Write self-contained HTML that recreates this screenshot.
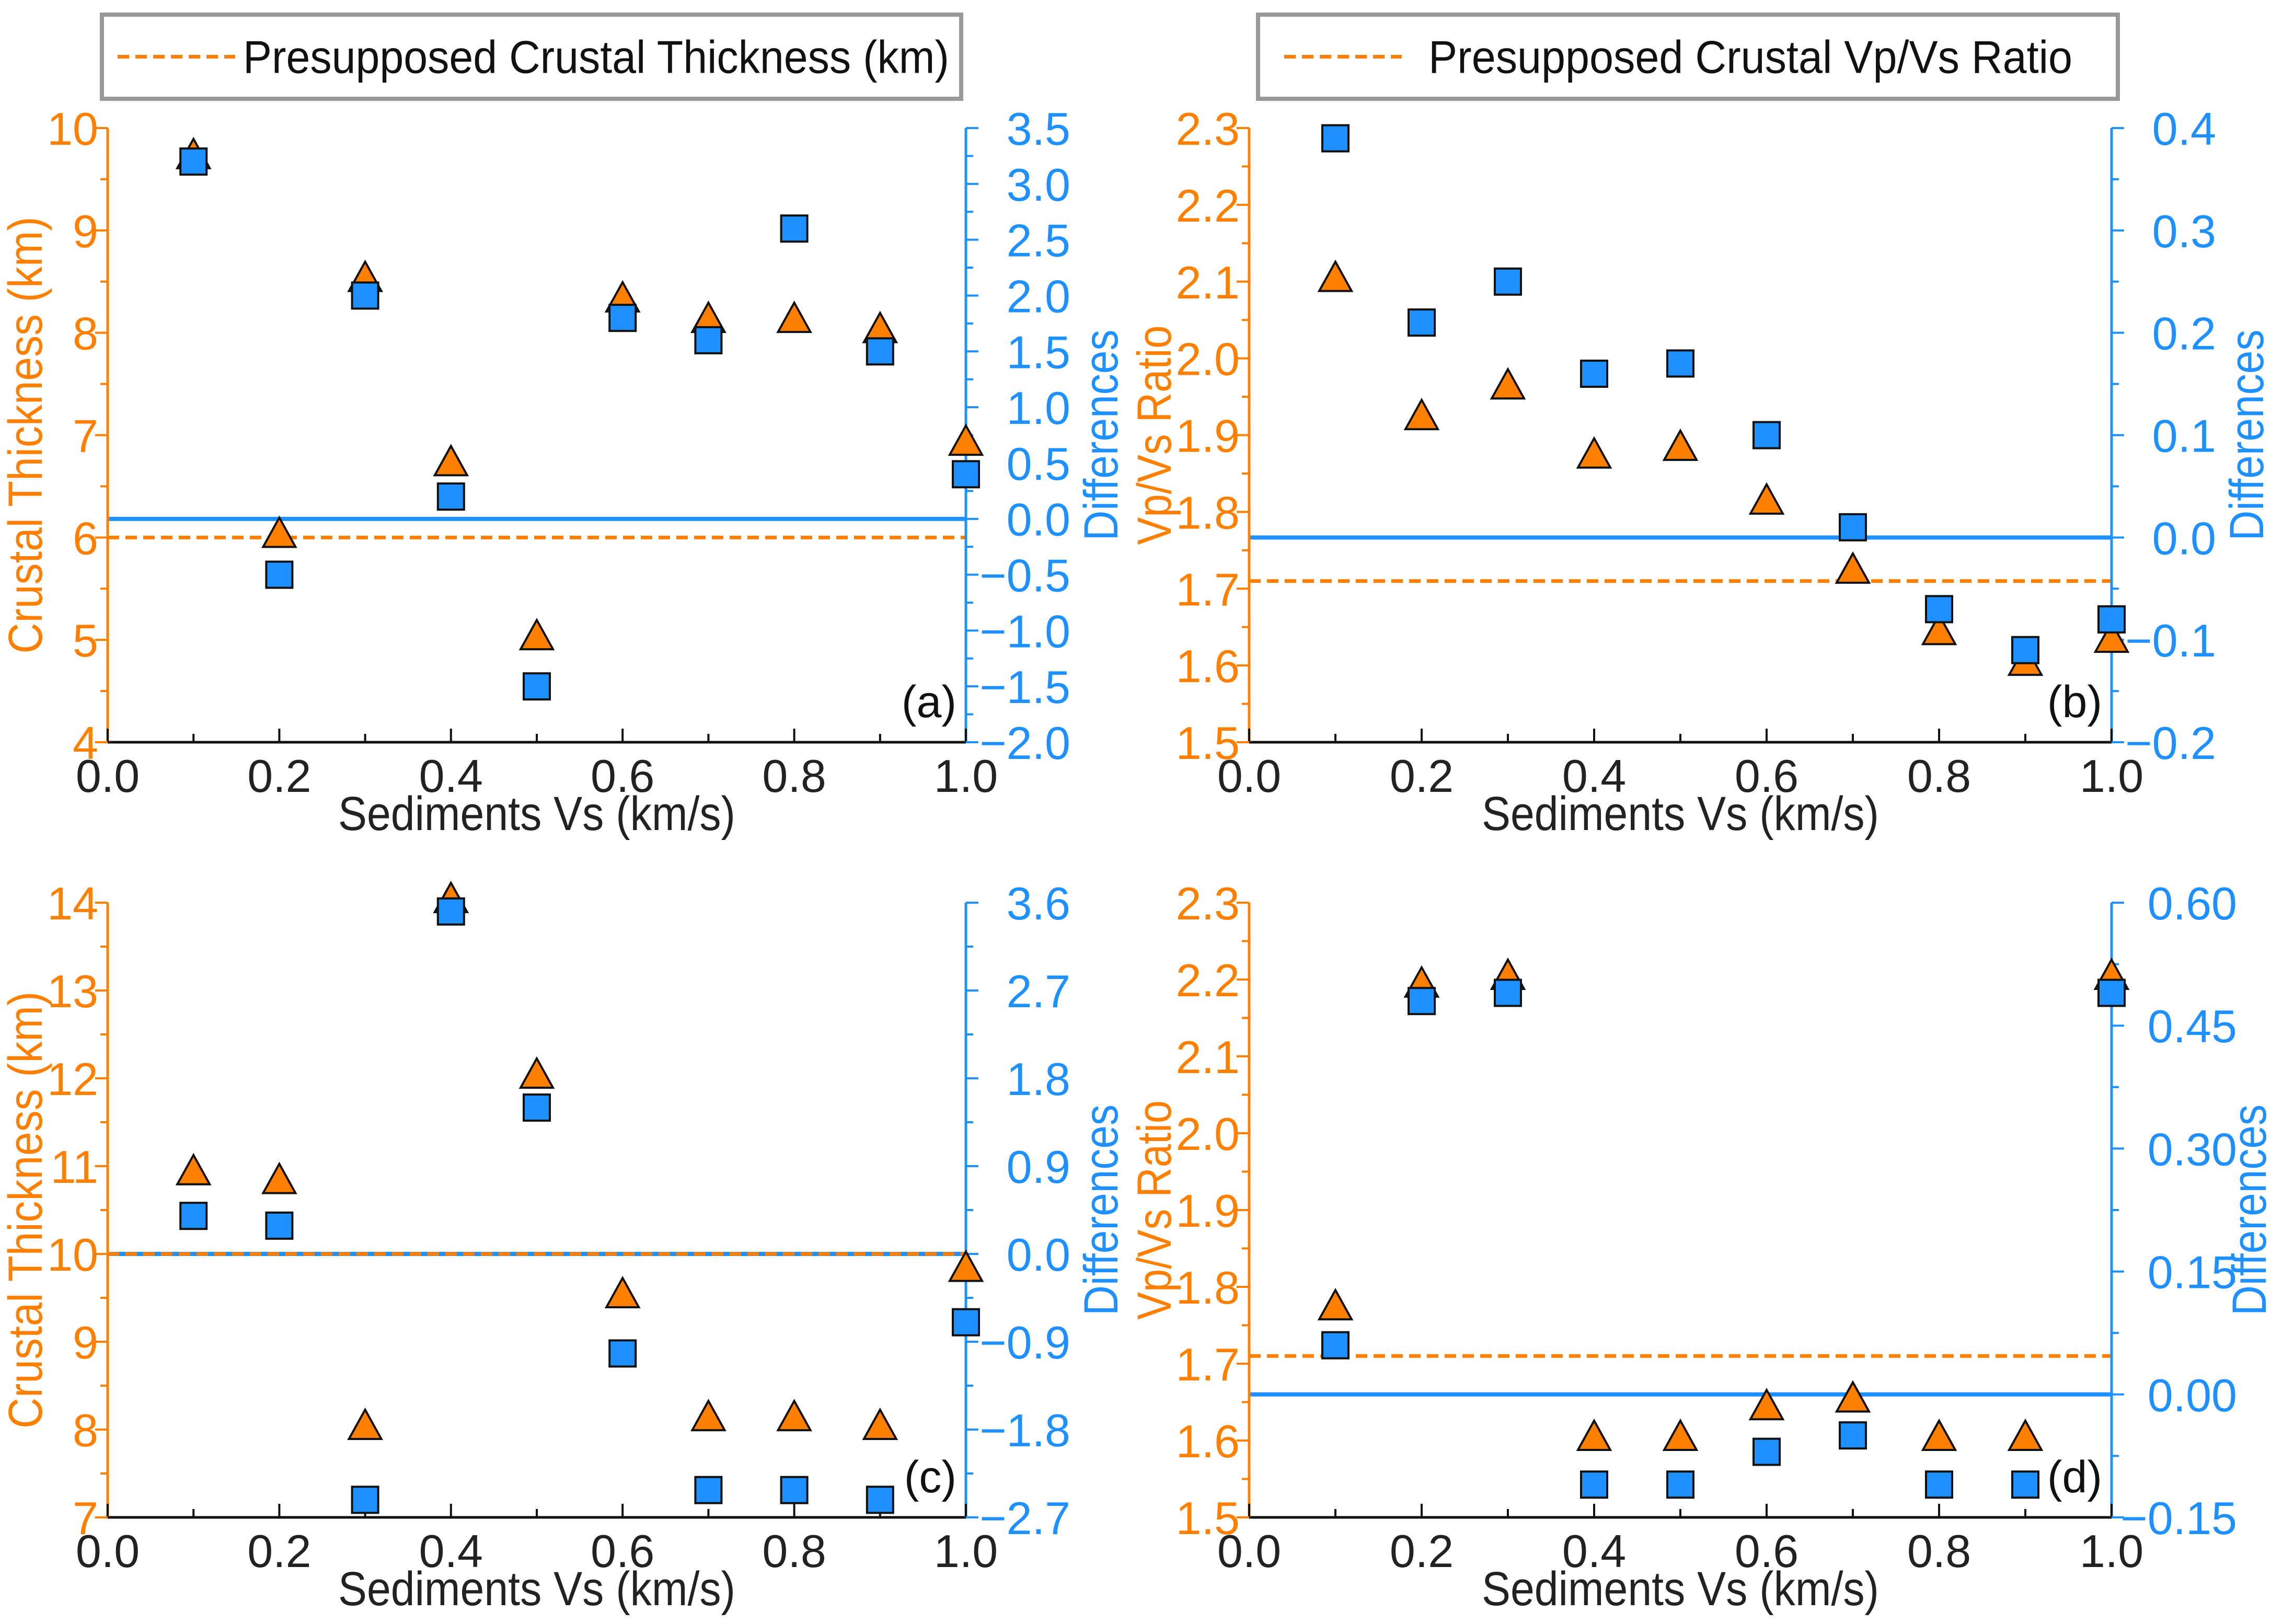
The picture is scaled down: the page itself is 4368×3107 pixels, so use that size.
<!DOCTYPE html>
<html><head><meta charset="utf-8"><style>
html,body{margin:0;padding:0;background:#fff}
svg{display:block;font-family:"Liberation Sans",sans-serif}
</style></head><body>
<svg id="fig" width="4368" height="3107" viewBox="0 0 4368 3107" xmlns="http://www.w3.org/2000/svg"></svg>
<script>
const xVals=[0.1,0.2,0.3,0.4,0.5,0.6,0.7,0.8,0.9,1.0];
const xTicks=[0,0.2,0.4,0.6,0.8,1.0];
const xTickLabels=["0.0","0.2","0.4","0.6","0.8","1.0"];
const aTri=[9.7,6.0,8.5,6.7,5.0,8.3,8.1,8.1,8.0,6.9];
const aSq=[3.2,-0.5,2.0,0.2,-1.5,1.8,1.6,2.6,1.5,0.4];
const aLeftTicks=[4,5,6,7,8,9,10];
const aRightTicks=[-2,-1.5,-1,-0.5,0,0.5,1,1.5,2,2.5,3,3.5];
const bTri=[2.1,1.92,1.96,1.87,1.88,1.81,1.72,1.64,1.60,1.63];
const bSq=[0.39,0.21,0.25,0.16,0.17,0.10,0.01,-0.07,-0.11,-0.08];
const bLeftTicks=[1.5,1.6,1.7,1.8,1.9,2.0,2.1,2.2,2.3];
const bRightTicks=[-0.2,-0.1,0,0.1,0.2,0.3,0.4];
const cTri=[10.9,10.8,8.0,14.0,12.0,9.5,8.1,8.1,8.0,9.8];
const cSq=[0.39,0.29,-2.52,3.51,1.5,-1.02,-2.42,-2.42,-2.52,-0.7];
const cLeftTicks=[7,8,9,10,11,12,13,14];
const cRightTicks=[-2.7,-1.8,-0.9,0,0.9,1.8,2.7,3.6];
const dTri=[1.77,2.19,2.2,1.6,1.6,1.64,1.65,1.6,1.6,2.2];
const dSq=[0.06,0.48,0.49,-0.11,-0.11,-0.07,-0.05,-0.11,-0.11,0.49];
const dLeftTicks=[1.5,1.6,1.7,1.8,1.9,2.0,2.1,2.2,2.3];
const dRightTicks=[-0.15,0,0.15,0.30,0.45,0.60];

const NS="http://www.w3.org/2000/svg";
const svg=document.getElementById('fig');
const OR="#FF8000", BL="#1E90FF";
function mk(tag,attrs,parent,text){const e=document.createElementNS(NS,tag);for(const k in attrs)e.setAttribute(k,attrs[k]);if(text!==undefined)e.textContent=text;(parent||svg).appendChild(e);return e;}

function panel(o){
  const g=mk('g',{});
  
  
  const L=o.x0,R=o.x1,T=o.y0,B=o.y1;
  const sx=v=>L+(R-L)*v;
  const syL=v=>B-(B-T)*(v-o.lmin)/(o.lmax-o.lmin);
  const syR=v=>B-(B-T)*(v-o.rmin)/(o.rmax-o.rmin);
  const zl=mk('line',{x1:L,x2:R,y1:syR(0),y2:syR(0),stroke:BL,'stroke-width':8},g);
  
  
  const ref=mk('line',{x1:L,x2:R,y1:syL(o.ref),y2:syL(o.ref),stroke:OR,'stroke-width':7,'stroke-dasharray':'22,12'},g);
  
  
  mk('line',{x1:L,x2:R,y1:B,y2:B,stroke:'#111','stroke-width':5},g);
  mk('line',{x1:L,x2:L,y1:T,y2:B,stroke:OR,'stroke-width':5},g);
  mk('line',{x1:R,x2:R,y1:T,y2:B,stroke:BL,'stroke-width':5},g);
  for(let i=0;i<=10;i++){const v=i/10;mk('line',{x1:sx(v),x2:sx(v),y1:B,y2:B-(i%2?16:26),stroke:'#111','stroke-width':4},g);}
  xTicks.forEach((v,i)=>{const t=mk('text',{x:sx(v),y:B+95,'font-size':88,'text-anchor':'middle',fill:'#222'},g,xTickLabels[i]);
    });
  o.lt.forEach((v,i)=>{const y=syL(v);mk('line',{x1:L-24,x2:L,y1:y,y2:y,stroke:OR,'stroke-width':4},g);
    if(i<o.lt.length-1){const ym=syL((v+o.lt[i+1])/2);mk('line',{x1:L-14,x2:L,y1:ym,y2:ym,stroke:OR,'stroke-width':4},g);}
    const t=mk('text',{x:L-18,y:y+32,'font-size':88,'text-anchor':'end',fill:OR},g,o.lfmt(v));
    });
  o.rt.forEach((v,i)=>{const y=syR(v);mk('line',{x1:R,x2:R+24,y1:y,y2:y,stroke:BL,'stroke-width':4},g);
    if(i<o.rt.length-1){const ym=syR((v+o.rt[i+1])/2);mk('line',{x1:R,x2:R+14,y1:ym,y2:ym,stroke:BL,'stroke-width':4},g);}
    const s=o.rfmt(v).replace('-','\u2212');
    const t=mk('text',{x:R+o.rtw,y:y+32,'font-size':88,'text-anchor':'end',fill:BL},g,s);
    });
  const cy=(T+B)/2;
  const lt=mk('text',{x:o.ltx,y:cy,'font-size':92,'text-anchor':'middle',fill:OR,textLength:o.ltl,lengthAdjust:'spacingAndGlyphs',transform:`rotate(-90 ${o.ltx} ${cy})`},g,o.ltitle);
  
  const rtx=R+o.rtx;
  const rt=mk('text',{x:rtx,y:cy,'font-size':92,'text-anchor':'middle',fill:BL,textLength:404,lengthAdjust:'spacingAndGlyphs',transform:`rotate(-90 ${rtx} ${cy})`},g,'Differences');
  
  const xt=mk('text',{x:(L+R)/2,y:B+168,'font-size':92,'text-anchor':'middle',fill:'#222',textLength:760,lengthAdjust:'spacingAndGlyphs'},g,'Sediments Vs (km/s)');
  
  const pl=mk('text',{x:R-18,y:B-48,'font-size':86,'text-anchor':'end',fill:'#111'},g,'('+o.id+')');
  
  xVals.forEach((xv,i)=>{const x=sx(xv),y=syL(o.tri[i]);
    const p=mk('polygon',{points:`${x},${y-38} ${x-31},${y+18} ${x+31},${y+18}`,fill:OR,stroke:'#111','stroke-width':4},g);
    });
  xVals.forEach((xv,i)=>{const x=sx(xv),y=syR(o.sq[i]);
    const r=mk('rect',{x:x-25,y:y-25,width:50,height:50,fill:BL,stroke:'#111','stroke-width':4},g);
    });
}
function legend(x,y,w,h,label,name,dx,tx,tl){
  const g=mk('g',{});
  
  mk('rect',{x:x,y:y,width:w,height:h,fill:'#fff',stroke:'#999','stroke-width':8},g);
  mk('line',{x1:x+dx,x2:x+dx+225,y1:y+h/2,y2:y+h/2,stroke:OR,'stroke-width':7,'stroke-dasharray':'22,12'},g);
  const t=mk('text',{x:x+tx,y:y+h/2+31,'font-size':88,fill:'#111',textLength:tl,lengthAdjust:'spacingAndGlyphs'},g,label);
  
}
const f1=v=>v.toFixed(1), f0=v=>String(v), f2=v=>v.toFixed(2);
legend(195,28,1644,161,'Presupposed Crustal Thickness (km)','legend-a',30,270,1351);
legend(2407,28,1645,161,'Presupposed Crustal Vp/Vs Ratio','legend-b',50,326,1232);
panel({id:'a',x0:206,x1:1848,y0:245,y1:1420,lmin:4,lmax:10,rmin:-2,rmax:3.5,ref:6,tri:aTri,sq:aSq,lt:aLeftTicks,rt:aRightTicks,lfmt:f0,rfmt:f1,ltitle:'Crustal Thickness (km)',ltl:836,ltx:80,rtw:200,rtx:290});
panel({id:'b',x0:2390,x1:4040,y0:245,y1:1420,lmin:1.5,lmax:2.3,rmin:-0.2,rmax:0.4,ref:1.71,tri:bTri,sq:bSq,lt:bLeftTicks,rt:bRightTicks,lfmt:f1,rfmt:f1,ltitle:'Vp/Vs Ratio',ltl:420,ltx:2240,rtw:200,rtx:290});
panel({id:'c',x0:206,x1:1848,y0:1727,y1:2903,lmin:7,lmax:14,rmin:-2.7,rmax:3.6,ref:10,tri:cTri,sq:cSq,lt:cLeftTicks,rt:cRightTicks,lfmt:f0,rfmt:f1,ltitle:'Crustal Thickness (km)',ltl:836,ltx:80,rtw:200,rtx:290});
panel({id:'d',x0:2390,x1:4040,y0:1727,y1:2903,lmin:1.5,lmax:2.3,rmin:-0.15,rmax:0.6,ref:1.71,tri:dTri,sq:dSq,lt:dLeftTicks,rt:dRightTicks,lfmt:f1,rfmt:f2,ltitle:'Vp/Vs Ratio',ltl:420,ltx:2240,rtw:240,rtx:295});
</script>
</body></html>
